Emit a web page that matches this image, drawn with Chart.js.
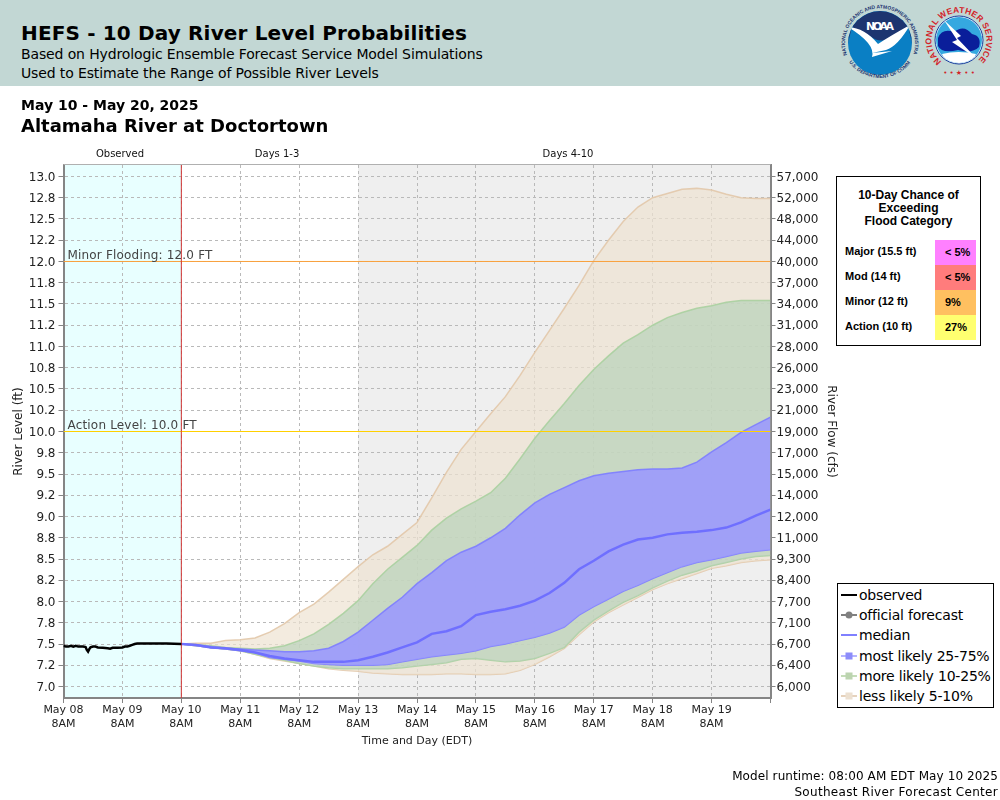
<!DOCTYPE html>
<html>
<head>
<meta charset="utf-8">
<title>HEFS - Altamaha River at Doctortown</title>
<script src="https://cdn.jsdelivr.net/npm/chart.js@4/dist/chart.umd.min.js"></script>
<style>
  html, body { margin: 0; padding: 0; background: #fff; }
  body { width: 1000px; height: 800px; position: relative; overflow: hidden; font-family: 'DejaVu Sans', sans-serif; color: #000; }
  #chart { position: absolute; left: 0; top: 0; }
  .abs { position: absolute; white-space: nowrap; }
  #banner { position: absolute; left: 0; top: 0; width: 1000px; height: 86px; background: #c2d7d4; }
  #logos { position: absolute; left: 830px; top: 0; }
  #floodBox { position: absolute; left: 836px; top: 176px; width: 143px; height: 168px; border: 1px solid #000; background: #fff; font-family: 'Liberation Sans', Arial, sans-serif; font-weight: bold; }
  #floodTitle { position: absolute; left: 0; top: 12px; width: 143px; text-align: center; font-size: 12px; line-height: 13px; }
  .floodName { position: absolute; left: 8px; font-size: 11px; line-height: 25px; }
  .floodCell { position: absolute; left: 98px; width: 41px; height: 25px; font-size: 11px; line-height: 25px; text-indent: 10px; }
  #legendBox { position: absolute; left: 837px; top: 583px; width: 155px; height: 123px; border: 1px solid #000; background: #fff; font-size: 14px; letter-spacing: -0.2px; }
  .legendRow { position: absolute; left: 3px; height: 20px; line-height: 20px; white-space: nowrap; }
  .legendRow svg { vertical-align: top; margin-right: 2px; }
</style>
</head>
<body>
<canvas id="chart" width="1000" height="800"></canvas>

<div id="banner"></div>
<div class="abs" style="left:21px;top:21px;font-size:20px;font-weight:bold;letter-spacing:.15px">HEFS - 10 Day River Level Probabilities</div>
<div class="abs" style="left:21px;top:46px;font-size:14px;letter-spacing:-.13px">Based on Hydrologic Ensemble Forecast Service Model Simulations</div>
<div class="abs" style="left:21px;top:65px;font-size:14px;letter-spacing:-.13px">Used to Estimate the Range of Possible River Levels</div>
<div class="abs" style="left:21px;top:97px;font-size:14px;font-weight:bold">May 10 - May 20, 2025</div>
<div class="abs" style="left:21px;top:115px;font-size:18px;font-weight:bold">Altamaha River at Doctortown</div>

<svg id="logos" width="170" height="86" viewBox="0 0 170 86">
  <defs>
    <path id="noaaTop" d="M 17 55 A 35 35 0 1 1 83 55"/>
    <path id="noaaBot" d="M 19 62 A 38 38 0 0 0 81 62"/>
    <path id="nwsTop" d="M 111.5 61.5 A 27.5 27.5 0 1 1 146.5 61.5"/>
    <clipPath id="noaaClip"><circle cx="50" cy="43" r="32"/></clipPath>
    <clipPath id="nwsClip"><circle cx="129" cy="40" r="23"/></clipPath>
  </defs>
  <circle cx="50" cy="43" r="32" fill="#0a7fc4"/>
  <path d="M 18 43 A 32 32 0 0 1 82 43 L 78 26 L 60 38 Q 50 44 40 36 L 22 27 Z" fill="#1d3570" clip-path="url(#noaaClip)"/>
  <path d="M 18 27 Q 35 28 48 44 Q 60 36 80 25 Q 68 46 56 50 L 42 53 L 62 51 L 42 57 Q 46 44 18 27 Z" fill="#fff" clip-path="url(#noaaClip)"/>
  <text font-size="5" font-weight="bold" fill="#1d3570" font-family="Liberation Sans"><textPath href="#noaaTop">NATIONAL OCEANIC AND ATMOSPHERIC ADMINISTRATION</textPath></text>
  <text font-size="5" font-weight="bold" fill="#1d3570" font-family="Liberation Sans"><textPath href="#noaaBot">U.S. DEPARTMENT OF COMMERCE</textPath></text>
  <text x="50" y="30" font-size="11" font-weight="bold" fill="#fff" text-anchor="middle" font-family="DejaVu Sans" textLength="28">NOAA</text>
  <circle cx="129" cy="40" r="24" fill="#fff" stroke="#123a9c" stroke-width="1"/>
  <circle cx="129" cy="40" r="23" fill="#35a8e0"/>
  <g clip-path="url(#nwsClip)">
    <path d="M 108 38 Q 112 28 124 32 Q 134 24 142 34 Q 152 36 149 47 Q 142 54 128 50 Q 112 54 108 46 Z" fill="#0a1e9a"/>
    <path d="M 112 54 Q 128 50 146 54 L 140 66 L 118 66 Z" fill="#fff"/>
  </g>
  <path d="M 114 20 L 131 36 L 127 38 L 146 58 L 122 42 L 127 40 Z" fill="#fff"/>
  <text font-size="8.5" font-weight="bold" fill="#d2232a" font-family="Liberation Sans" textLength="132"><textPath href="#nwsTop">NATIONAL WEATHER SERVICE</textPath></text>
  <text x="129" y="75" font-size="7" fill="#d2232a" text-anchor="middle" font-family="DejaVu Sans">&#8226; &#8226; &#9733; &#8226; &#8226;</text>
</svg>

<div id="floodBox">
  <div id="floodTitle">10-Day Chance of<br>Exceeding<br>Flood Category</div>
</div>
<div id="legendBox"></div>

<div class="abs" style="right:2px;top:769px;font-size:12px;letter-spacing:.1px">Model runtime: 08:00 AM EDT May 10 2025</div>
<div class="abs" style="right:2px;top:785px;font-size:12px;letter-spacing:.3px">Southeast River Forecast Center</div>

<script>
// ── Axis ticks ─────────────────────────────────────────────
const levelTicks = [7, 7.25, 7.5, 7.75, 8, 8.25, 8.5, 8.75, 9, 9.25, 9.5, 9.75, 10, 10.25, 10.5, 10.75, 11, 11.25, 11.5, 11.75, 12, 12.25, 12.5, 12.75, 13];
const levelLabels = ['7.0','7.2','7.5','7.8','8.0','8.2','8.5','8.8','9.0','9.2','9.5','9.8','10.0','10.2','10.5','10.8','11.0','11.2','11.5','11.8','12.0','12.2','12.5','12.8','13.0'];
const flowLabels = ['6,000','6,400','6,700','7,100','7,700','8,400','9,300','11,000','12,000','14,000','15,000','17,000','19,000','21,000','23,000','26,000','28,000','31,000','34,000','37,000','40,000','44,000','48,000','52,000','57,000'];
const dayLabels = ['May 08','May 09','May 10','May 11','May 12','May 13','May 14','May 15','May 16','May 17','May 18','May 19'];

// ── Observed stage ─────────────────────────────────────────
const obsHours = [0,1,2,3,4,5,6,7,8,9,9.5,10,10.5,11,12,13,14,16,18,19,20,22,24,25,26,27,28,29,30,36,42,48];
const obsLevels = [7.48,7.47,7.47,7.48,7.47,7.48,7.47,7.47,7.47,7.465,7.43,7.41,7.44,7.46,7.47,7.47,7.46,7.455,7.45,7.445,7.455,7.455,7.46,7.47,7.47,7.48,7.49,7.50,7.505,7.505,7.505,7.50];

// ── Ensemble forecast, 6-hourly ────────────────────────────
const fcstHours = [48,54,60,66,72,78,84,90,96,102,108,114,120,126,132,138,144,150,156,162,168,174,180,186,192,198,204,210,216,222,228,234,240,246,252,258,264,270,276,282,288];
const p95 = [7.50,7.51,7.51,7.54,7.55,7.57,7.64,7.74,7.87,7.97,8.11,8.26,8.41,8.55,8.65,8.79,8.93,9.22,9.52,9.79,10.00,10.21,10.41,10.66,10.93,11.19,11.45,11.72,12.01,12.25,12.47,12.64,12.75,12.80,12.85,12.86,12.84,12.79,12.75,12.74,12.74];
const p90 = [7.50,7.49,7.48,7.46,7.45,7.44,7.45,7.48,7.54,7.62,7.73,7.86,8.01,8.21,8.38,8.52,8.66,8.84,8.98,9.09,9.18,9.28,9.45,9.68,9.92,10.13,10.33,10.54,10.73,10.89,11.04,11.14,11.25,11.34,11.40,11.45,11.48,11.52,11.54,11.54,11.54];
const p75 = [7.50,7.49,7.47,7.45,7.44,7.43,7.42,7.41,7.41,7.42,7.45,7.53,7.64,7.78,7.92,8.05,8.21,8.34,8.48,8.58,8.65,8.75,8.86,9.02,9.16,9.26,9.34,9.42,9.48,9.51,9.53,9.55,9.56,9.56,9.57,9.64,9.76,9.87,9.99,10.08,10.17];
const median = [7.50,7.49,7.46,7.45,7.43,7.40,7.36,7.33,7.31,7.29,7.29,7.29,7.31,7.35,7.40,7.46,7.52,7.62,7.65,7.71,7.84,7.88,7.91,7.95,8.01,8.10,8.22,8.38,8.48,8.59,8.67,8.73,8.75,8.79,8.81,8.82,8.84,8.87,8.93,9.01,9.08];
const p25 = [7.50,7.48,7.46,7.44,7.42,7.40,7.34,7.32,7.30,7.27,7.26,7.25,7.25,7.25,7.26,7.29,7.32,7.35,7.37,7.39,7.42,7.47,7.50,7.54,7.58,7.63,7.70,7.84,7.94,8.03,8.12,8.19,8.27,8.34,8.41,8.46,8.49,8.53,8.57,8.59,8.61];
const p10 = [7.50,7.48,7.46,7.44,7.42,7.38,7.34,7.31,7.27,7.24,7.22,7.21,7.21,7.21,7.21,7.22,7.24,7.26,7.28,7.32,7.33,7.31,7.29,7.30,7.33,7.39,7.46,7.64,7.78,7.89,7.99,8.07,8.16,8.24,8.31,8.36,8.42,8.46,8.50,8.53,8.54];
const p05 = [7.50,7.48,7.46,7.44,7.42,7.38,7.33,7.30,7.27,7.24,7.21,7.19,7.18,7.16,7.15,7.14,7.14,7.14,7.15,7.15,7.14,7.14,7.15,7.19,7.26,7.35,7.45,7.61,7.76,7.87,7.96,8.05,8.14,8.21,8.27,8.33,8.39,8.42,8.46,8.48,8.49];

// ── Thresholds and phases ──────────────────────────────────
const HOUR_MIN = 0, HOUR_MAX = 288, LEVEL_MIN = 6.865, LEVEL_MAX = 13.135;
const NOW_HOUR = 48, DAY3_HOUR = 120;
const MINOR_LEVEL = 12, ACTION_LEVEL = 10;
const phaseNames = ['Observed', 'Days 1-3', 'Days 4-10'];
const phaseCenters = [23, 87, 205.5];

const floodNames = ['Major (15.5 ft)', 'Mod (14 ft)', 'Minor (12 ft)', 'Action (10 ft)'];
const floodChances = ['< 5%', '< 5%', '9%', '27%'];
const floodColors = ['#ff80ff', '#ff7c7c', '#ffc060', '#ffff70'];

const legendNames = ['observed', 'official forecast', 'median', 'most likely 25-75%', 'more likely 10-25%', 'less likely 5-10%'];

// ── Colours ────────────────────────────────────────────────
const TAN_FILL = 'rgba(238,226,210,0.7)';
const TAN_LINE = 'rgba(226,200,170,0.9)';
const GREEN_FILL = 'rgba(184,209,185,0.7)';
const GREEN_LINE = 'rgba(170,208,160,0.9)';
const BLUE_FILL = 'rgba(154,152,255,0.87)';
const BLUE_LINE = 'rgba(125,125,255,0.9)';
const MEDIAN_LINE = '#6f6fff';
const GRID = '#b9b9b9';
const AXIS = '#858585';

const pts = (hours, levels) => hours.map((h, i) => ({ x: h, y: levels[i] }));

function bandEdge(levels, color, fillColor) {
  return {
    data: pts(fcstHours, levels),
    borderColor: color,
    borderWidth: 1.5,
    backgroundColor: fillColor || 'transparent',
    fill: fillColor ? '+1' : false,
    pointRadius: 0,
    tension: 0,
  };
}

// Shaded periods sit under the grid
const shadePlugin = {
  id: 'shade',
  beforeDraw(chart) {
    const { ctx, chartArea: a, scales: { x } } = chart;
    ctx.save();
    ctx.fillStyle = '#fff';
    ctx.fillRect(0, 0, chart.width, chart.height);
    ctx.fillStyle = '#e8ffff';
    ctx.fillRect(x.getPixelForValue(HOUR_MIN), a.top, x.getPixelForValue(NOW_HOUR) - x.getPixelForValue(HOUR_MIN), a.height);
    ctx.fillStyle = '#efefef';
    ctx.fillRect(x.getPixelForValue(DAY3_HOUR), a.top, x.getPixelForValue(HOUR_MAX) - x.getPixelForValue(DAY3_HOUR), a.height);
    ctx.restore();
  },
  afterDraw(chart) {
    const { ctx, chartArea: a, scales: { x, y } } = chart;
    ctx.save();
    ctx.strokeStyle = '#b0b0b0';
    ctx.lineWidth = 1;
    ctx.beginPath();
    ctx.moveTo(a.left, a.top - 0.5);
    ctx.lineTo(a.right, a.top - 0.5);
    ctx.stroke();

    ctx.fillStyle = '#111';
    ctx.font = "10px 'DejaVu Sans'";
    ctx.textAlign = 'center';
    ctx.textBaseline = 'middle';
    phaseNames.forEach((name, i) => ctx.fillText(name, x.getPixelForValue(phaseCenters[i]), a.top - 11));

    ctx.fillStyle = '#444';
    ctx.font = "12px 'DejaVu Sans'";
    ctx.letterSpacing = '0.18px';
    ctx.textAlign = 'left';
    ctx.textBaseline = 'alphabetic';
    ctx.fillText('Minor Flooding: 12.0 FT', a.left + 4, y.getPixelForValue(MINOR_LEVEL) - 2.5);
    ctx.fillText('Action Level: 10.0 FT', a.left + 4, y.getPixelForValue(ACTION_LEVEL) - 2.5);
    ctx.restore();
  }
};

const tickFont = { family: "'DejaVu Sans'", size: 12 };
const titleFont = { family: "'DejaVu Sans'", size: 12 };

new Chart(document.getElementById('chart'), {
  type: 'line',
  plugins: [shadePlugin],
  data: {
    datasets: [
      { label: 'observed', data: pts(obsHours, obsLevels), borderColor: '#000', borderWidth: 2.5, pointRadius: 0, tension: 0 },
      { label: 'now', data: [{ x: NOW_HOUR, y: LEVEL_MIN }, { x: NOW_HOUR, y: LEVEL_MAX }], borderColor: '#d23232', borderWidth: 1, pointRadius: 0 },
      { label: 'minor', data: [{ x: HOUR_MIN, y: MINOR_LEVEL }, { x: HOUR_MAX, y: MINOR_LEVEL }], borderColor: '#f9a13c', borderWidth: 1, pointRadius: 0 },
      { label: 'action', data: [{ x: HOUR_MIN, y: ACTION_LEVEL }, { x: HOUR_MAX, y: ACTION_LEVEL }], borderColor: '#ffd000', borderWidth: 1, pointRadius: 0 },
      { label: 'median', data: pts(fcstHours, median), borderColor: MEDIAN_LINE, borderWidth: 2.5, pointRadius: 0, tension: 0 },
      bandEdge(p75, BLUE_LINE, BLUE_FILL),
      bandEdge(p25, BLUE_LINE),
      bandEdge(p90, GREEN_LINE, GREEN_FILL),
      bandEdge(p10, GREEN_LINE),
      bandEdge(p95, TAN_LINE, TAN_FILL),
      bandEdge(p05, TAN_LINE),
    ]
  },
  options: {
    responsive: false,
    animation: false,
    devicePixelRatio: 1,
    layout: { padding: { left: 0, right: 161.5, top: 165, bottom: 52 } },
    plugins: { legend: { display: false }, tooltip: { enabled: false }, title: { display: false } },
    scales: {
      x: {
        type: 'linear',
        min: HOUR_MIN,
        max: HOUR_MAX,
        grid: { color: GRID, tickColor: AXIS, tickLength: 5, tickBorderDash: [] },
        border: { color: AXIS, width: 2, dash: [3, 3] },
        afterBuildTicks(scale) {
          scale.ticks = dayLabels.concat('').map((_, i) => ({ value: i * 24 }));
        },
        afterFit(scale) { scale.height = 50; },
        ticks: {
          autoSkip: false, maxRotation: 0, minRotation: 0, padding: 1,
          color: '#222', font: { family: "'DejaVu Sans'", size: 11 },
          callback: (v, i) => dayLabels[i] ? [dayLabels[i], '8AM'] : '',
        },
        title: { display: true, text: 'Time and Day (EDT)', color: '#222', font: { family: "'DejaVu Sans'", size: 11 }, padding: { top: 0, bottom: 0 } },
      },
      y: {
        position: 'left',
        min: LEVEL_MIN,
        max: LEVEL_MAX,
        grid: { color: GRID, tickColor: AXIS, tickLength: 5, tickBorderDash: [] },
        border: { color: AXIS, width: 2, dash: [3, 3] },
        afterBuildTicks(scale) { scale.ticks = levelTicks.map(v => ({ value: v })); },
        afterFit(scale) { scale.width = 63.5; },
        ticks: { autoSkip: false, padding: 3, labelOffset: 1, color: '#222', font: tickFont, callback: (v, i) => levelLabels[i] },
        title: { display: true, text: 'River Level (ft)', color: '#222', font: titleFont, padding: { top: 12, bottom: 0 } },
      },
      yFlow: {
        position: 'right',
        min: LEVEL_MIN,
        max: LEVEL_MAX,
        grid: { drawOnChartArea: false, tickColor: AXIS, tickLength: 5 },
        border: { color: AXIS, width: 2 },
        afterBuildTicks(scale) { scale.ticks = levelTicks.map(v => ({ value: v })); },
        afterFit(scale) { scale.width = 68; },
        ticks: { autoSkip: false, padding: 1, labelOffset: 1, color: '#222', font: tickFont, callback: (v, i) => flowLabels[i] },
        title: { display: true, text: 'River Flow (cfs)', color: '#222', font: titleFont, padding: { top: 0, bottom: 0 } },
      },
    }
  }
});

// ── Flood category table ───────────────────────────────────
const floodBox = document.getElementById('floodBox');
floodNames.forEach((name, i) => {
  const top = 63 + i * 25;
  floodBox.insertAdjacentHTML('beforeend',
    `<div class="floodName" style="top:${top - 1}px">${name}</div>` +
    `<div class="floodCell" style="top:${top}px;line-height:24px;background:${floodColors[i]}">${floodChances[i].replace('<', '&lt;')}</div>`);
});

// ── Legend ─────────────────────────────────────────────────
const legendGlyphs = [
  '<line x1="0" y1="10" x2="16" y2="10" stroke="#000" stroke-width="2"/>',
  '<line x1="0" y1="10" x2="16" y2="10" stroke="#808080" stroke-width="2"/><circle cx="8" cy="10" r="3.5" fill="#808080"/>',
  '<line x1="0" y1="10" x2="16" y2="10" stroke="#8080ff" stroke-width="2"/>',
  '<line x1="0" y1="10" x2="16" y2="10" stroke="#b4b4ff" stroke-width="2"/><rect x="4.5" y="6.5" width="7" height="7" fill="#8c8cfa"/>',
  '<line x1="0" y1="10" x2="16" y2="10" stroke="#c4dcb8" stroke-width="2"/><rect x="4.5" y="6.5" width="7" height="7" fill="#bcd4b0"/>',
  '<line x1="0" y1="10" x2="16" y2="10" stroke="#e6d2bc" stroke-width="2"/><rect x="4.5" y="6.5" width="7" height="7" fill="#ece0d0"/>',
];
const legendBox = document.getElementById('legendBox');
legendNames.forEach((name, i) => {
  legendBox.insertAdjacentHTML('beforeend',
    `<div class="legendRow" style="top:${1 + i * 20.2}px"><svg width="16" height="20">${legendGlyphs[i]}</svg>${name}</div>`);
});
</script>
</body>
</html>
